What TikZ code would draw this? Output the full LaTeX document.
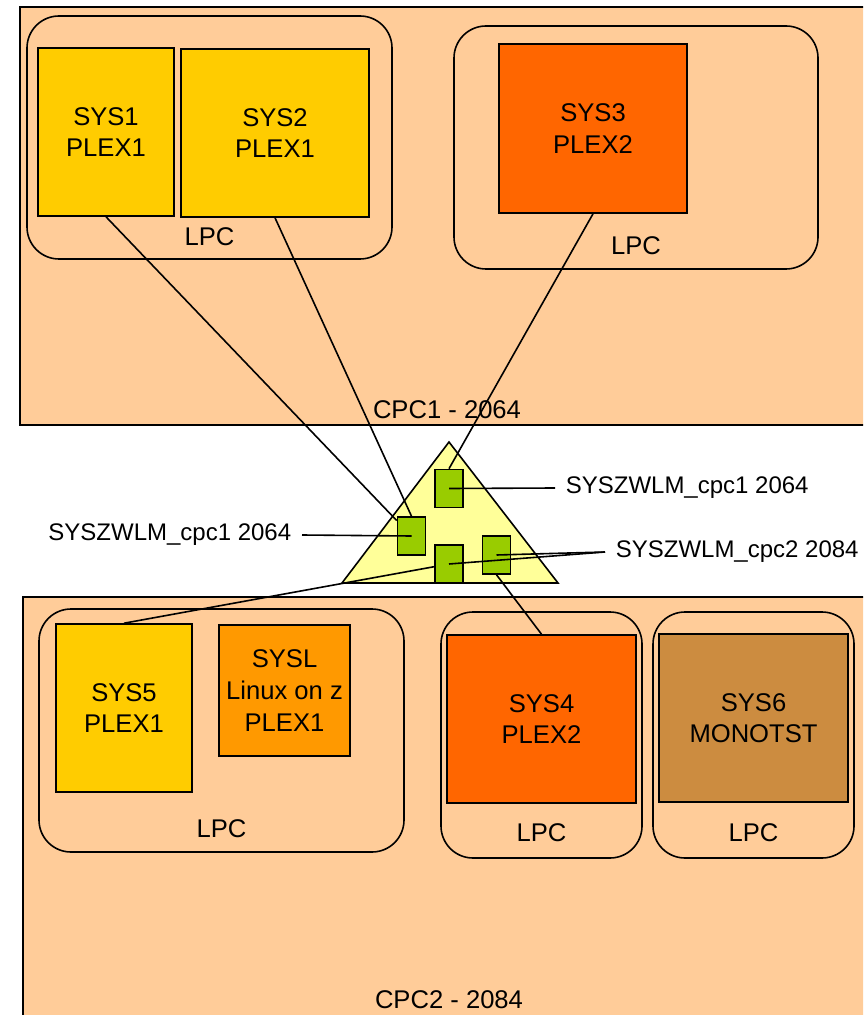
\documentclass[tikz,border=0pt]{standalone}
\usepackage{fontspec}
\setmainfont{Liberation Sans}
\usepackage{tikz}
\usetikzlibrary{positioning}
\definecolor{cpcPeach}{RGB}{255,204,153}
\definecolor{plexOneYellow}{RGB}{255,204,0}
\definecolor{plexTwoOrange}{RGB}{255,102,0}
\definecolor{linuxOrange}{RGB}{255,153,0}
\definecolor{monoBrown}{RGB}{204,140,64}
\definecolor{cfYellow}{RGB}{255,255,153}
\definecolor{wlmGreen}{RGB}{153,204,0}

\begin{document}
\begin{tikzpicture}[x=0.5pt, y=-0.5pt, line width=0.8pt,
  every node/.style={font=\fontsize{12.8}{15.8}\selectfont, align=center},
  sysbox/.style={draw, inner sep=2pt},
  lpcframe/.style={draw, rounded corners=16pt},
  wlmbox/.style={draw, fill=wlmGreen, minimum width=14pt, minimum height=19pt, inner sep=0pt},
  lbl/.style={font=\fontsize{12}{14}\selectfont, inner sep=5pt}]
  \useasboundingbox (0,0) rectangle (863,1015);
  \clip (0,0) rectangle (863,1015);
  % CPC frames
  \filldraw[fill=cpcPeach] (20,7) rectangle (890,425);
  \node (cpcAlbl) at (447,410) {CPC1 - 2064};
  \filldraw[fill=cpcPeach] (23,597) rectangle (890,1040);
  \node (cpcBlbl) at (449,1000) {CPC2 - 2084};
  % LPC frames
  \node[lpcframe, minimum width=182.5pt, minimum height=121.5pt] (lpcA) at (209.5,137.5) {};
  \node[lpcframe, minimum width=182pt, minimum height=121.5pt] (lpcB) at (636,147.5) {};
  \node[lpcframe, minimum width=182.5pt, minimum height=121.5pt] (lpcC) at (221.5,730.5) {};
  \node[lpcframe, minimum width=100.5pt, minimum height=123pt] (lpcD) at (541.5,735) {};
  \node[lpcframe, minimum width=100.5pt, minimum height=123pt] (lpcE) at (753.5,735) {};
  \node (lpcAlbl) at ([yshift=11.5pt]lpcA.south) {LPC};
  \node (lpcBlbl) at ([yshift=12pt]lpcB.south) {LPC};
  \node (lpcClbl) at ([yshift=12pt]lpcC.south) {LPC};
  \node (lpcDlbl) at ([yshift=13pt]lpcD.south) {LPC};
  \node (lpcElbl) at ([yshift=13pt]lpcE.south) {LPC};
  % Systems
  \node[sysbox, fill=plexOneYellow, minimum width=68pt, minimum height=84pt] (sys1) at (106,132) {SYS1\\PLEX1};
  \node[sysbox, fill=plexOneYellow, minimum width=94pt, minimum height=84pt] (sys2) at (275,133) {SYS2\\PLEX1};
  \node[sysbox, fill=plexTwoOrange, minimum width=94pt, minimum height=84.5pt] (sys3) at (593,128.5) {SYS3\\PLEX2};
  \node[sysbox, fill=plexOneYellow, minimum width=68pt, minimum height=84pt] (sys5) at (124,708) {SYS5\\PLEX1};
  \node[sysbox, fill=linuxOrange, minimum width=65.5pt, minimum height=65.5pt] (sysl) at (284.5,690.5) {SYSL\\Linux on z\\PLEX1};
  \node[sysbox, fill=plexTwoOrange, minimum width=94.5pt, minimum height=84pt] (sys4) at (541.5,719) {SYS4\\PLEX2};
  \node[sysbox, fill=monoBrown, minimum width=94.5pt, minimum height=84pt] (sys6) at (753.5,718) {SYS6\\MONOTST};
  % Coupling facility
  \filldraw[fill=cfYellow] (449,442) -- (558,583) -- (342,583) -- cycle;
  \node[wlmbox] (wlmA) at (449,488.5) {};
  \node[wlmbox] (wlmB) at (411.5,536) {};
  \node[wlmbox] (wlmC) at (449,564) {};
  \node[wlmbox] (wlmD) at (496.5,555) {};
  % Links
  \draw (sys1.south) -- (wlmB);
  \draw (sys2.south) -- (wlmB.north);
  \draw (sys3.south) -- (wlmA.north);
  \draw (sys5.north) -- (wlmC);
  \draw (sys4.north) -- (wlmD.south);
  % Structure labels
  \node[lbl, anchor=west] (wlmAlbl) at (555,488) {SYSZWLM\_cpc1 2064};
  \node[lbl, anchor=east] (wlmBlbl) at (302,535) {SYSZWLM\_cpc1 2064};
  \node[lbl, anchor=west] (wlmClbl) at (605,552) {SYSZWLM\_cpc2 2084};
  \draw (wlmA.center) -- (wlmAlbl.west);
  \draw (wlmBlbl.east) -- (wlmB.center);
  \draw (wlmClbl.west) -- (wlmD.center);
  \draw (wlmClbl.west) -- (wlmC.center);
\end{tikzpicture}
\end{document}
